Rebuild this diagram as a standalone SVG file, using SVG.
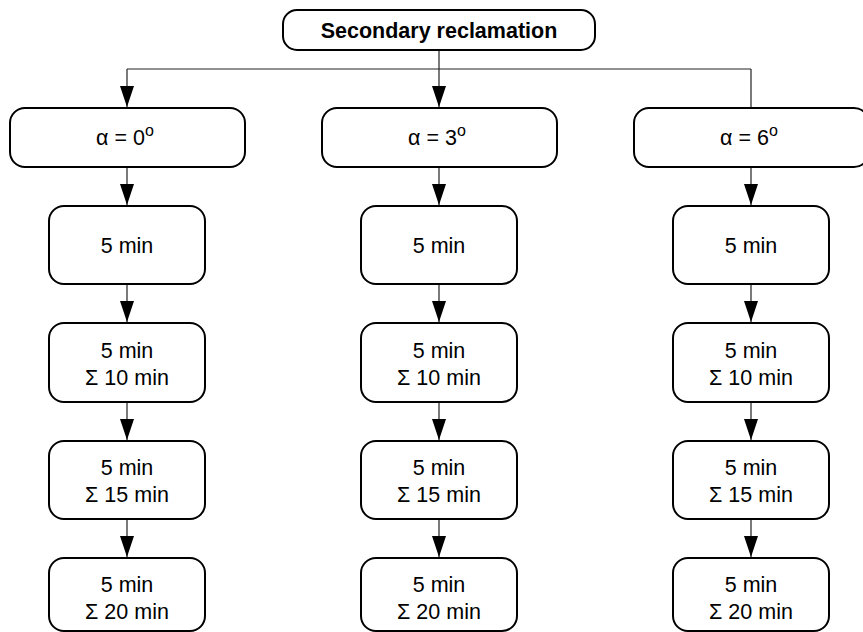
<svg xmlns="http://www.w3.org/2000/svg" width="863" height="632" viewBox="0 0 863 632">
<style>
.box{fill:#fff;stroke:#000;stroke-width:2}
.t{font-family:"Liberation Sans",Arial,sans-serif;font-size:21.5px;fill:#000;text-anchor:middle}
.b{font-weight:bold;font-size:21.5px}
.c{fill:none;stroke:#222;stroke-width:1.2}
.sup{font-size:16px}
</style>
<defs>
<marker id="ah" viewBox="0 0 21 14" markerWidth="21" markerHeight="14" refX="21" refY="7" orient="auto" markerUnits="userSpaceOnUse">
<path d="M0,0 L21,7 L0,14 z" fill="#000"/>
</marker>
</defs>
<rect width="863" height="632" fill="#fff"/>
<g id="connectors">
<line class="c" x1="439" y1="50" x2="439" y2="107" marker-end="url(#ah)"/>
<line class="c" x1="127" y1="69" x2="751" y2="69"/>
<line class="c" x1="127" y1="69" x2="127" y2="107" marker-end="url(#ah)"/>
<line class="c" x1="751" y1="69" x2="751" y2="108"/>
<line class="c" x1="127" y1="167" x2="127" y2="205" marker-end="url(#ah)"/>
<line class="c" x1="127" y1="284" x2="127" y2="322" marker-end="url(#ah)"/>
<line class="c" x1="127" y1="402" x2="127" y2="440" marker-end="url(#ah)"/>
<line class="c" x1="127" y1="519" x2="127" y2="557" marker-end="url(#ah)"/>
<line class="c" x1="439" y1="167" x2="439" y2="205" marker-end="url(#ah)"/>
<line class="c" x1="439" y1="284" x2="439" y2="322" marker-end="url(#ah)"/>
<line class="c" x1="439" y1="402" x2="439" y2="440" marker-end="url(#ah)"/>
<line class="c" x1="439" y1="519" x2="439" y2="557" marker-end="url(#ah)"/>
<line class="c" x1="751" y1="167" x2="751" y2="205" marker-end="url(#ah)"/>
<line class="c" x1="751" y1="284" x2="751" y2="322" marker-end="url(#ah)"/>
<line class="c" x1="751" y1="402" x2="751" y2="440" marker-end="url(#ah)"/>
<line class="c" x1="751" y1="519" x2="751" y2="557" marker-end="url(#ah)"/>
</g>
<g id="top">
<rect class="box" x="283" y="10" width="312" height="40" rx="14"/>
<text class="t b" x="439" y="37.5">Secondary reclamation</text>
</g>
<g id="a0">
<rect class="box" x="10" y="108" width="235" height="59" rx="15"/>
<text class="t" x="125" y="144.5">α = 0<tspan class="sup" dy="-9">o</tspan></text>
</g>
<g id="a3">
<rect class="box" x="322" y="108" width="235" height="59" rx="15"/>
<text class="t" x="437" y="144.5">α = 3<tspan class="sup" dy="-9">o</tspan></text>
</g>
<g id="a6">
<rect class="box" x="634" y="108" width="235" height="59" rx="15"/>
<text class="t" x="749" y="144.5">α = 6<tspan class="sup" dy="-9">o</tspan></text>
</g>
<g id="c1r1"><rect class="box" x="49" y="206" width="156" height="78" rx="15"/><text class="t" x="127" y="252.5">5 min</text></g>
<g id="c1r2"><rect class="box" x="49" y="323" width="156" height="79" rx="15"/><text class="t" x="127" y="357.5">5 min</text><text class="t" x="127" y="384.5">Σ 10 min</text></g>
<g id="c1r3"><rect class="box" x="49" y="441" width="156" height="78" rx="15"/><text class="t" x="127" y="474.5">5 min</text><text class="t" x="127" y="501.5">Σ 15 min</text></g>
<g id="c1r4"><rect class="box" x="49" y="558" width="156" height="73" rx="15"/><text class="t" x="127" y="592">5 min</text><text class="t" x="127" y="618.5">Σ 20 min</text></g>
<g id="c2r1"><rect class="box" x="361" y="206" width="156" height="78" rx="15"/><text class="t" x="439" y="252.5">5 min</text></g>
<g id="c2r2"><rect class="box" x="361" y="323" width="156" height="79" rx="15"/><text class="t" x="439" y="357.5">5 min</text><text class="t" x="439" y="384.5">Σ 10 min</text></g>
<g id="c2r3"><rect class="box" x="361" y="441" width="156" height="78" rx="15"/><text class="t" x="439" y="474.5">5 min</text><text class="t" x="439" y="501.5">Σ 15 min</text></g>
<g id="c2r4"><rect class="box" x="361" y="558" width="156" height="73" rx="15"/><text class="t" x="439" y="592">5 min</text><text class="t" x="439" y="618.5">Σ 20 min</text></g>
<g id="c3r1"><rect class="box" x="673" y="206" width="156" height="78" rx="15"/><text class="t" x="751" y="252.5">5 min</text></g>
<g id="c3r2"><rect class="box" x="673" y="323" width="156" height="79" rx="15"/><text class="t" x="751" y="357.5">5 min</text><text class="t" x="751" y="384.5">Σ 10 min</text></g>
<g id="c3r3"><rect class="box" x="673" y="441" width="156" height="78" rx="15"/><text class="t" x="751" y="474.5">5 min</text><text class="t" x="751" y="501.5">Σ 15 min</text></g>
<g id="c3r4"><rect class="box" x="673" y="558" width="156" height="73" rx="15"/><text class="t" x="751" y="592">5 min</text><text class="t" x="751" y="618.5">Σ 20 min</text></g>
</svg>
